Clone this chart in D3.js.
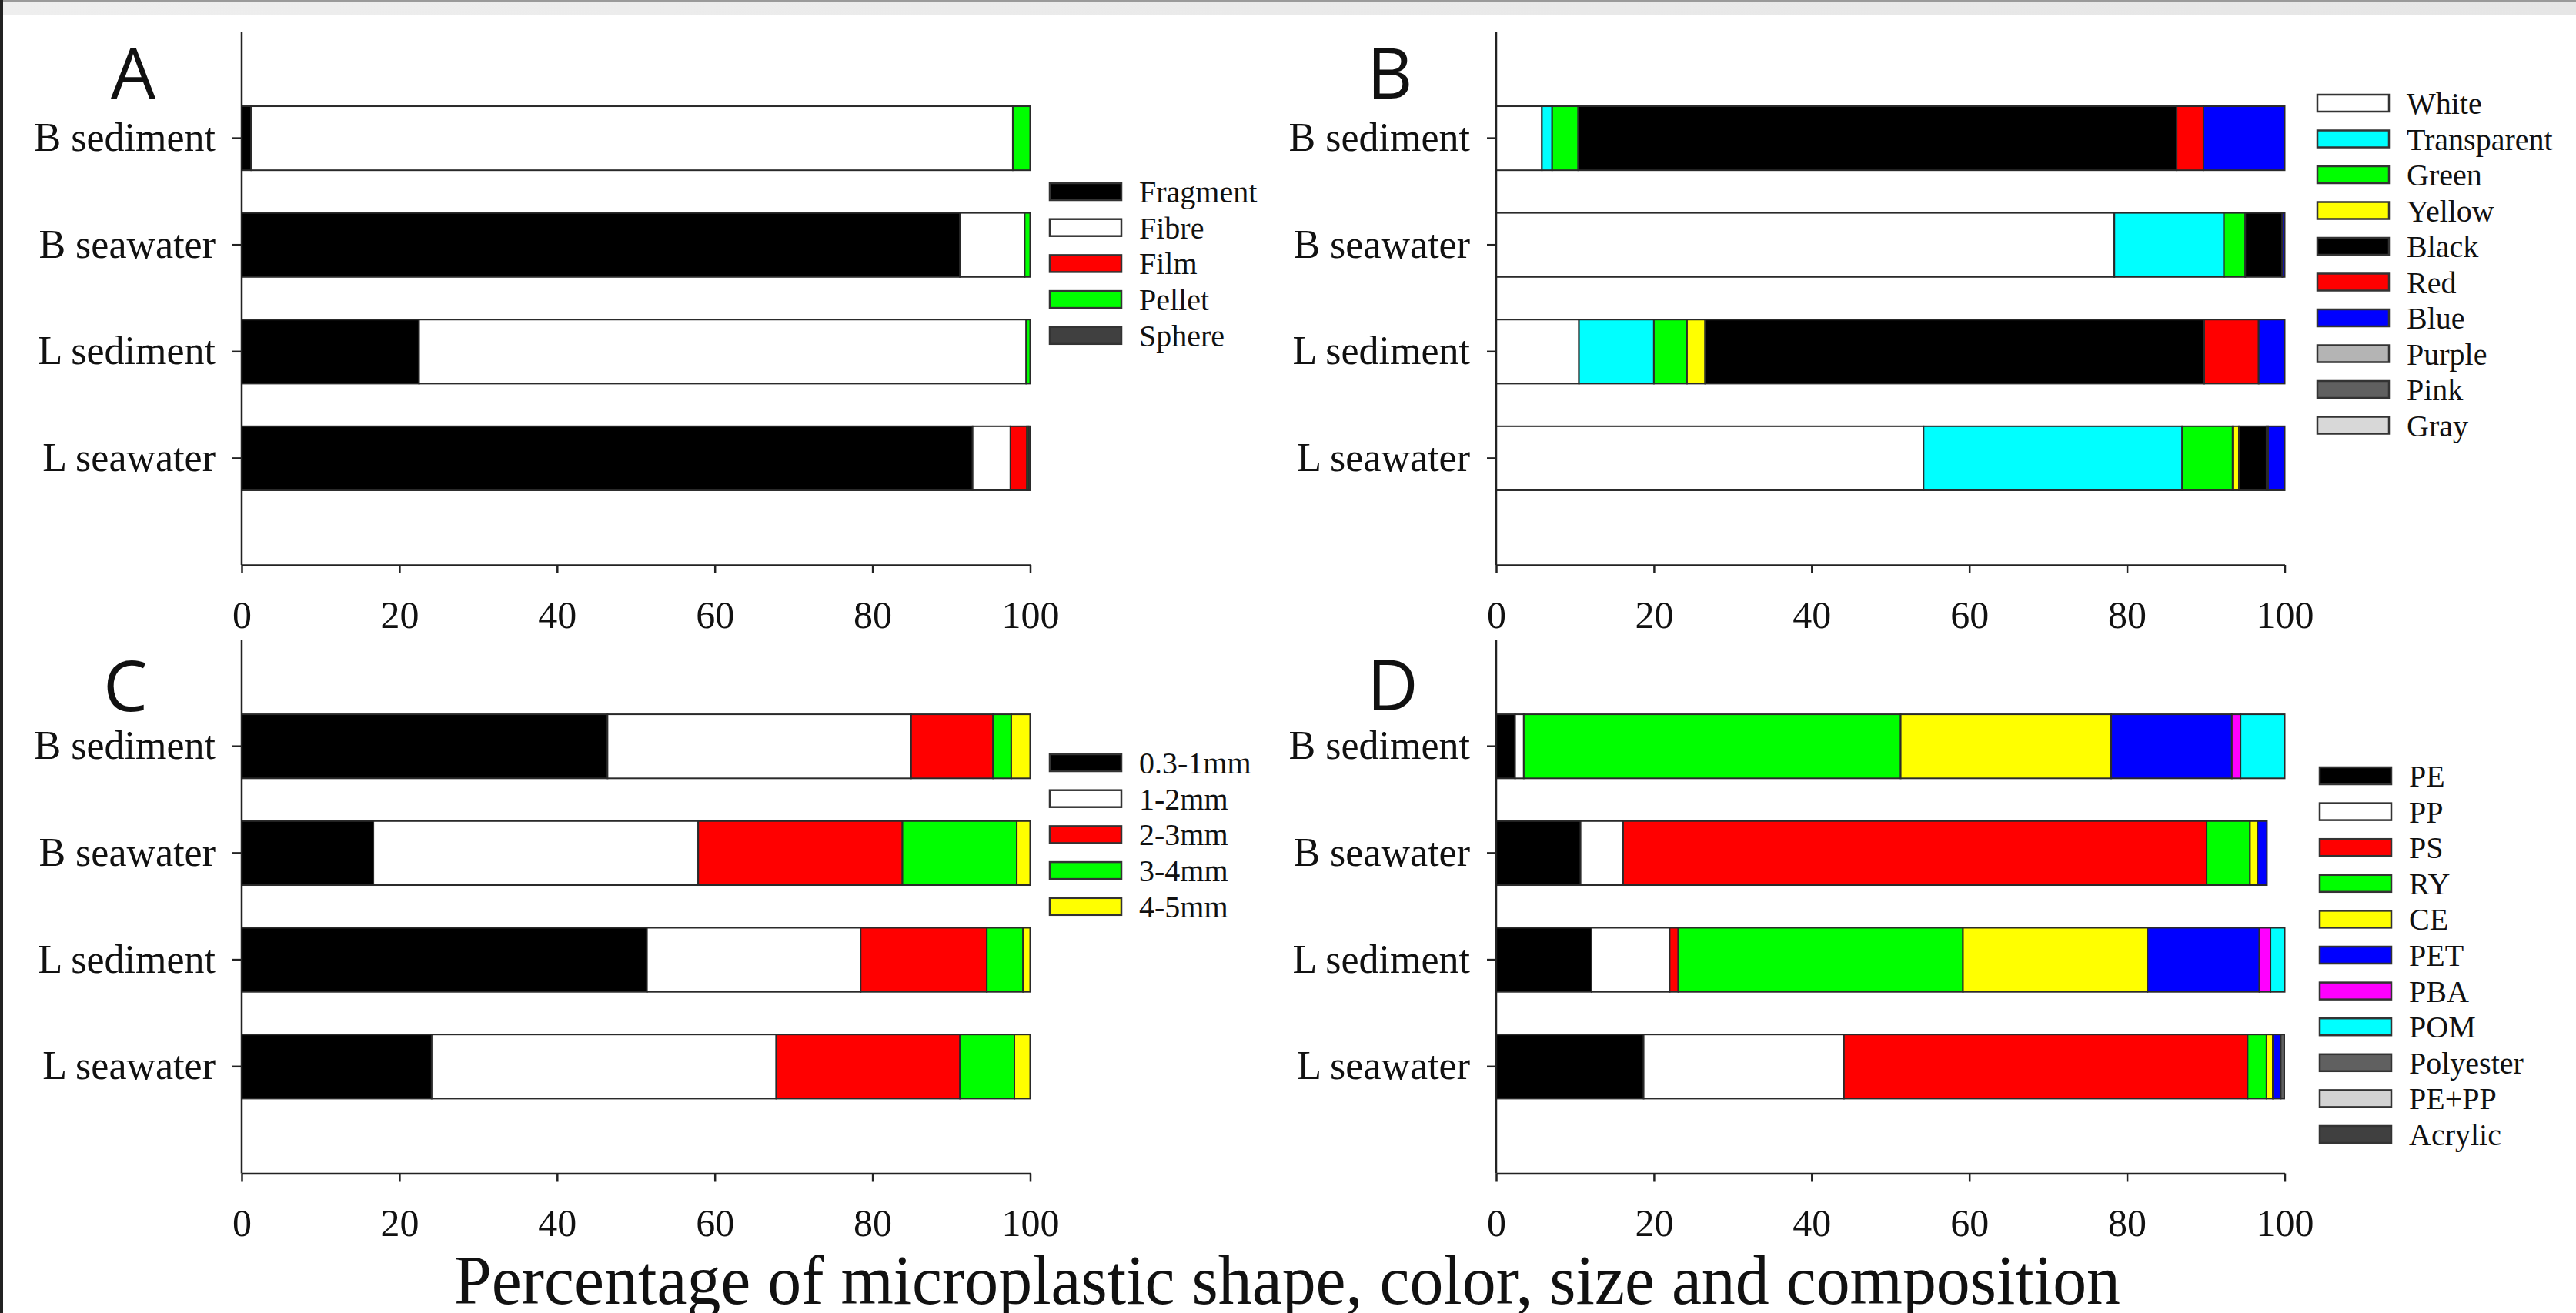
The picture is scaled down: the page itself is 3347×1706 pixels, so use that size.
<!DOCTYPE html>
<html>
<head>
<meta charset="utf-8">
<script src="https://cdn.jsdelivr.net/npm/d3@7"></script>
<style>
  html, body { margin: 0; padding: 0; background: #fff; }
  svg { display: block; }
  text { font-family: "Liberation Serif", "Times New Roman", serif; fill: #111; }
</style>
</head>
<body>
<div id="chart"></div>
<script>
// categorias (de cima para baixo)
const rows = ["B sediment", "B seawater", "L sediment", "L seawater"];

// A - forma
const shapeKeys = ["Fragment", "Fibre", "Film", "Pellet", "Sphere"];
const shapeColors = ["#000000", "#ffffff", "#ff0000", "#00ff00", "#404040"];
const shapeValues = [
  [1.2, 96.6, 0, 2.2, 0],
  [91.1, 8.2, 0, 0.7, 0],
  [22.5, 77.0, 0, 0.5, 0],
  [92.7, 4.8, 2.1, 0.2, 0.2]
];

// B - cor
const colorKeys = ["White", "Transparent", "Green", "Yellow", "Black", "Red", "Blue", "Purple", "Pink", "Gray"];
const colorColors = ["#ffffff", "#00ffff", "#00ff00", "#ffff00", "#000000", "#ff0000", "#0000ff", "#b4b4b4", "#606060", "#d8d8d8"];
const colorValues = [
  [5.8, 1.3, 3.3, 0, 75.9, 3.4, 10.3, 0, 0, 0],
  [78.4, 13.9, 2.7, 0, 4.7, 0, 0.3, 0, 0, 0],
  [10.5, 9.5, 4.2, 2.3, 63.3, 6.9, 3.3, 0, 0, 0],
  [54.2, 32.8, 6.4, 0.8, 3.5, 0.2, 2.1, 0, 0, 0]
];

// C - tamanho
const sizeKeys = ["0.3-1mm", "1-2mm", "2-3mm", "3-4mm", "4-5mm"];
const sizeColors = ["#000000", "#ffffff", "#ff0000", "#00ff00", "#ffff00"];
const sizeValues = [
  [46.4, 38.5, 10.4, 2.3, 2.4],
  [16.7, 41.2, 25.9, 14.5, 1.7],
  [51.4, 27.1, 16.0, 4.6, 0.9],
  [24.1, 43.7, 23.3, 6.9, 2.0]
];

// D - composição
const polyKeys = ["PE", "PP", "PS", "RY", "CE", "PET", "PBA", "POM", "Polyester", "PE+PP", "Acrylic"];
const polyColors = ["#000000", "#ffffff", "#ff0000", "#00ff00", "#ffff00", "#0000ff", "#ff00ff", "#00ffff", "#606060", "#d3d3d3", "#404040"];
const polyValues = [
  [2.4, 1.1, 0, 47.8, 26.7, 15.3, 1.1, 5.6, 0, 0, 0],
  [10.7, 5.4, 74.0, 5.5, 0.95, 1.2, 0, 0, 0, 0, 0],
  [12.1, 9.9, 1.1, 36.1, 23.4, 14.2, 1.4, 1.8, 0, 0, 0],
  [18.7, 25.4, 51.2, 2.4, 0.8, 1.0, 0, 0, 0.45, 0, 0]
];

const xTicks = [0, 20, 40, 60, 80, 100];

const W = 3347, H = 1706;
const svg = d3.select("#chart").append("svg")
  .attr("width", W).attr("height", H);

// moldura da captura (faixa cinza no topo, borda esquerda)
const grad = svg.append("defs").append("linearGradient").attr("id", "topband")
  .attr("x1", 0).attr("x2", 1).attr("y1", 0).attr("y2", 0);
grad.append("stop").attr("offset", "0%").attr("stop-color", "#eeeeee");
grad.append("stop").attr("offset", "100%").attr("stop-color", "#e6e6e6");
svg.append("rect").attr("x", 0).attr("y", 0).attr("width", W).attr("height", 20).attr("fill", "url(#topband)");
svg.append("line").attr("x1", 0).attr("x2", W).attr("y1", 1).attr("y2", 1).attr("stroke", "#9a9a9a").attr("stroke-width", 2);
svg.append("rect").attr("x", 0).attr("y", 0).attr("width", 4).attr("height", H).attr("fill", "#222");

function drawPanel(cfg) {
  const g = svg.append("g");
  const step = (cfg.bottom - cfg.top) / 5;

  const x = d3.scaleLinear().domain([0, 100]).range([cfg.left, cfg.left + 1024.5]);
  const y = d3.scaleBand().domain(rows)
    .range([cfg.top + step / 2, cfg.bottom - step / 2])
    .paddingInner(0.4).paddingOuter(0.2);

  const table = rows.map((r, i) => {
    const o = {row: r};
    cfg.keys.forEach((k, j) => o[k] = cfg.values[i][j]);
    return o;
  });
  const series = d3.stack().keys(cfg.keys)(table);
  const color = d3.scaleOrdinal().domain(cfg.keys).range(cfg.colors);

  g.selectAll("g.series")
    .data(series)
    .join("g")
    .attr("class", "series")
    .attr("fill", d => color(d.key))
    .selectAll("rect")
    .data(d => d.filter(s => s[1] - s[0] > 0))
    .join("rect")
    .attr("x", d => x(d[0]))
    .attr("width", d => x(d[1]) - x(d[0]))
    .attr("y", d => y(d.data.row))
    .attr("height", y.bandwidth())
    .attr("stroke", "#2a2a2a")
    .attr("stroke-width", 2);

  // eixo x
  const xAxis = g.append("g")
    .attr("transform", `translate(0,${cfg.bottom})`)
    .call(d3.axisBottom(x).tickValues(xTicks).tickSize(11).tickPadding(35).tickSizeOuter(0));
  xAxis.selectAll("text").style("font-size", "50px").attr("fill", "#111");
  xAxis.selectAll("line, path").attr("stroke", "#222").attr("stroke-width", 2.5);

  // eixo y
  const yAxis = g.append("g")
    .attr("transform", `translate(${cfg.left},0)`)
    .call(d3.axisLeft(y).tickSize(12).tickPadding(22).tickSizeOuter(0));
  yAxis.select(".domain").remove();
  yAxis.selectAll("text").style("font-size", "52px").attr("fill", "#111");
  yAxis.selectAll("line").attr("stroke", "#222").attr("stroke-width", 2.5);
  g.append("line")
    .attr("x1", cfg.left).attr("x2", cfg.left)
    .attr("y1", cfg.top).attr("y2", cfg.bottom)
    .attr("stroke", "#222").attr("stroke-width", 2.5);

  // letra do painel
  g.append("text")
    .attr("x", cfg.letterX).attr("y", cfg.letterY)
    .style("font-family", "'Open Sans', 'DejaVu Sans', sans-serif")
    .style("font-size", "92px")
    .attr("fill", "#000")
    .text(cfg.letter);

  // legenda
  const leg = g.selectAll("g.leg")
    .data(cfg.keys)
    .join("g")
    .attr("class", "leg")
    .attr("transform", (d, i) => `translate(${cfg.legX},${cfg.legY + i * cfg.legStep})`);
  leg.append("rect")
    .attr("x", 0).attr("y", -11)
    .attr("width", 93).attr("height", 22)
    .attr("fill", d => color(d))
    .attr("stroke", "#333").attr("stroke-width", 2.5);
  leg.append("text")
    .attr("x", 116).attr("dy", "0.35em")
    .style("font-size", "40px")
    .text(d => d);
}

drawPanel({letter: "A", keys: shapeKeys, colors: shapeColors, values: shapeValues,
  left: 314, top: 41, bottom: 734, letterX: 144, letterY: 128,
  legX: 1364, legY: 249, legStep: 46.7});
drawPanel({letter: "B", keys: colorKeys, colors: colorColors, values: colorValues,
  left: 1944, top: 41, bottom: 734, letterX: 1776, letterY: 128,
  legX: 3011, legY: 134, legStep: 46.5});
drawPanel({letter: "C", keys: sizeKeys, colors: sizeColors, values: sizeValues,
  left: 314, top: 831, bottom: 1524.5, letterX: 134, letterY: 924,
  legX: 1364, legY: 991, legStep: 46.7});
drawPanel({letter: "D", keys: polyKeys, colors: polyColors, values: polyValues,
  left: 1944, top: 831, bottom: 1524.5, letterX: 1776, letterY: 923,
  legX: 3014, legY: 1008, legStep: 46.6});

// título do eixo x
svg.append("text")
  .attr("x", 590).attr("y", 1694)
  .attr("textLength", 2165)
  .attr("lengthAdjust", "spacingAndGlyphs")
  .style("font-size", "92px")
  .attr("fill", "#000")
  .text("Percentage of microplastic shape, color, size and composition");
</script>
</body>
</html>
